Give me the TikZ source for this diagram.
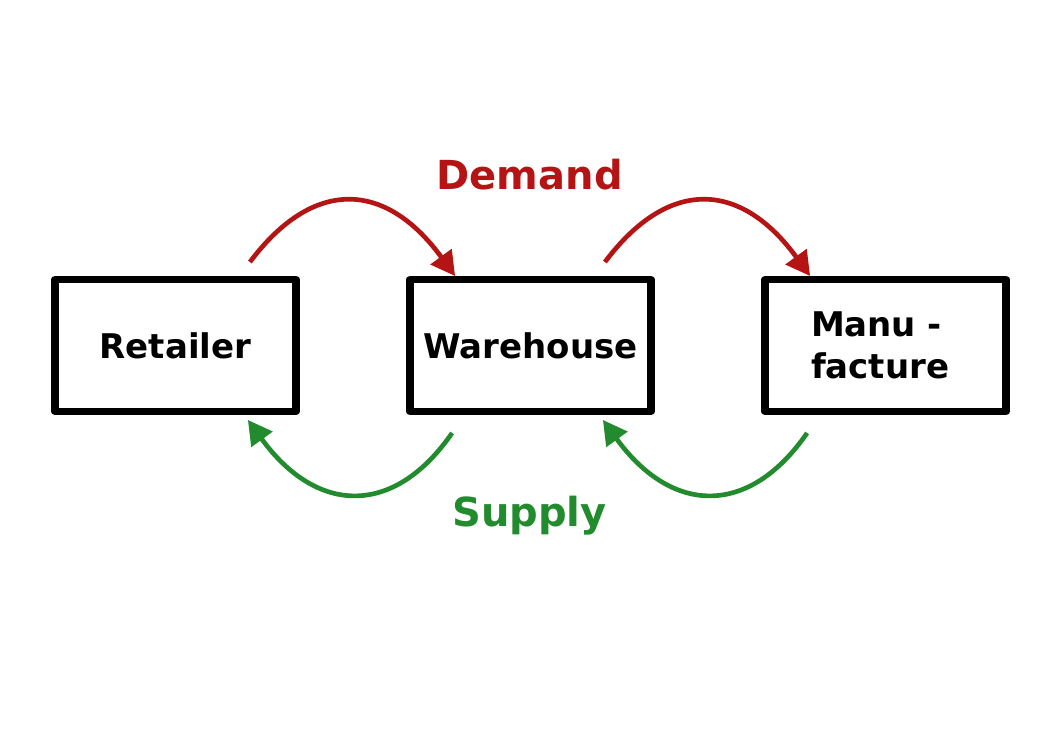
\documentclass[tikz,border=0pt]{standalone}
\usepackage{fontspec}
\setmainfont{DejaVu Sans}
\usetikzlibrary{arrows.meta,calc}
\definecolor{demandred}{RGB}{180,20,20}
\definecolor{supplygreen}{RGB}{34,139,45}
\tikzset{
  box/.style={draw=black, line width=5.6pt, line join=round, minimum width=181pt, minimum height=98.6pt, inner sep=0pt, font=\bfseries\fontsize{25.5}{32}\selectfont},
  flow/.style={line width=3.5pt, -{Triangle[length=18pt,width=19pt]}},
  demand/.style={flow, draw=demandred},
  supply/.style={flow, draw=supplygreen},
  lbl/.style={font=\bfseries\fontsize{30}{34}\selectfont, inner sep=0pt, anchor=base}
}
\begin{document}
\begin{tikzpicture}[x=0.75pt,y=-0.75pt]
\useasboundingbox (0,0) rectangle (1053,745);
\node[box] (R) at (175.5,345.5) {Retailer};
\node[box] (W) at (530.5,345.5) {Warehouse};
\node[box, text width=111.75pt, align=left] (M) at (885.5,345.5) {Manu -\\facture};
\node[lbl, text=demandred] (D) at (529.7,190) {Demand};
\node[lbl, text=supplygreen] (S) at (529.5,526) {Supply};
\draw[demand] ($(R.north east)+(-50,-14)$) .. controls +(63,-84) and +(-70,-96) .. ($(W.north west)+(49,0)$);
\draw[demand] ($(W.north east)+(-50,-14)$) .. controls +(63,-84) and +(-70,-96) .. ($(M.north west)+(49,0)$);
\draw[supply] ($(W.south west)+(46,18)$) .. controls +(-58,84) and +(69,95) .. ($(R.south east)+(-52,5)$);
\draw[supply] ($(M.south west)+(46,18)$) .. controls +(-58,84) and +(69,95) .. ($(W.south east)+(-52,5)$);
\end{tikzpicture}
\end{document}
